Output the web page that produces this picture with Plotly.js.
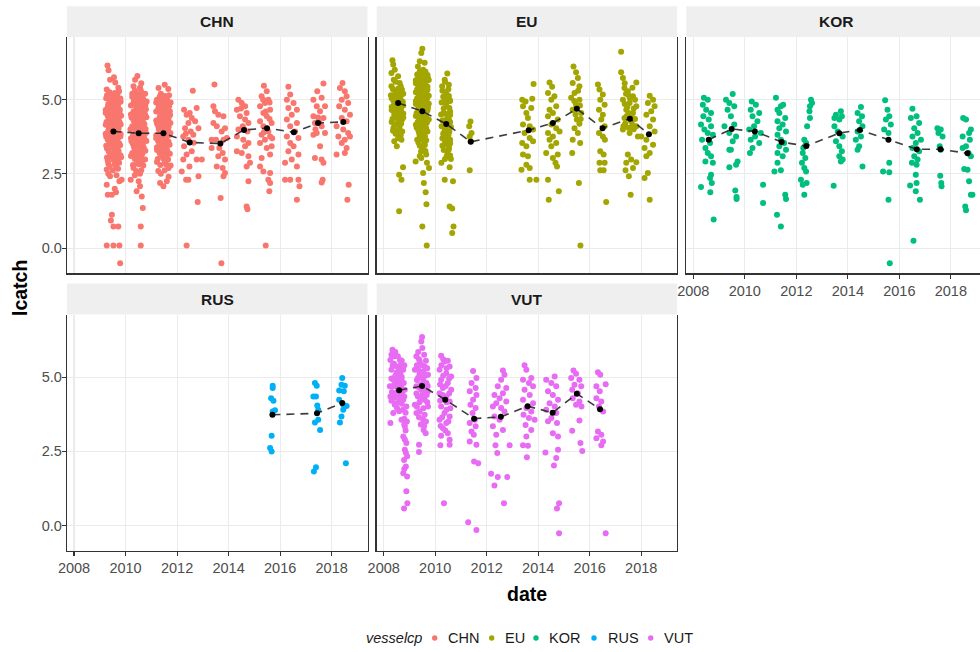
<!DOCTYPE html>
<html>
<head>
<meta charset="utf-8">
<script src="https://cdn.plot.ly/plotly-3.0.1.min.js"></script>
<style>html,body{margin:0;padding:0;overflow:hidden;background:#fff}</style>
</head>
<body>
<div id="chart"></div>
<script>
// ---- data: log catch by fishing trip, grouped by season for each fleet ----
const vessels = ['CHN', 'EU', 'KOR', 'RUS', 'VUT'];
const vesselColors = ['#F8766D', '#A3A500', '#00BF7D', '#00B0F6', '#E76BF3'];
const xTickVals = [2008, 2010, 2012, 2014, 2016, 2018];
const yTickVals = [0, 2.5, 5];
const yTickText = ['0.0', '2.5', '5.0'];

// season dates (decimal years) and seasonal mean lcatch
const chnDates = [2009.53, 2010.51, 2011.47, 2012.49, 2013.68, 2014.60, 2015.49, 2016.53, 2017.47, 2018.45];
const chnMeans = [3.93, 3.87, 3.87, 3.56, 3.52, 3.98, 4.04, 3.90, 4.21, 4.25];
const euDates = [2008.56, 2009.50, 2010.43, 2011.38, 2013.63, 2014.57, 2015.50, 2016.50, 2017.56, 2018.30];
const euMeans = [4.89, 4.61, 4.18, 3.58, 3.97, 4.21, 4.69, 4.04, 4.36, 3.83];
const korDates = [2008.60, 2009.49, 2010.39, 2011.43, 2012.39, 2013.67, 2014.47, 2015.58, 2016.68, 2017.60, 2018.65];
const korMeans = [3.65, 4.01, 3.93, 3.57, 3.44, 3.87, 3.98, 3.65, 3.33, 3.33, 3.19];
const rusDates = [2015.70, 2017.43, 2018.41];
const rusMeans = [3.73, 3.78, 4.13];
const vutDates = [2008.60, 2009.49, 2010.39, 2011.51, 2012.55, 2013.59, 2014.56, 2015.50, 2016.40];
const vutMeans = [4.56, 4.70, 4.24, 3.60, 3.66, 4.02, 3.80, 4.44, 3.92];

// individual trips per season: [jitter offset in years, lcatch]
const chnTrips = [
  [[-0.23,6.15],[-0.19,5.99],[0.02,5.75],[0.07,5.58],[-0.13,5.67],[0.19,5.40],[-0.26,5.34],
   [-0.15,5.25],[0.05,5.22],[0.22,5.28],[-0.28,5.05],[-0.05,5.02],[0.12,5.08],[0.27,5.04],
   [-0.2,4.85],[0.0,4.88],[0.18,4.83],[-0.3,4.65],[-0.1,4.68],[0.08,4.62],[0.25,4.66],
   [-0.22,4.45],[-0.02,4.47],[0.15,4.43],[0.3,4.46],[-0.27,4.25],[-0.08,4.22],[0.1,4.27],[0.24,4.24],
   [-0.18,4.05],[0.02,4.08],[0.2,4.03],[-0.3,3.85],[-0.1,3.82],[0.07,3.87],[0.28,3.84],
   [-0.22,3.65],[-0.02,3.62],[0.16,3.67],[-0.28,3.45],[-0.08,3.48],[0.1,3.43],[0.26,3.46],
   [-0.18,3.25],[0.03,3.22],[0.2,3.27],[-0.25,3.05],[-0.05,3.08],[0.13,3.03],[0.3,3.06],
   [-0.2,2.85],[0.05,2.82],[0.22,2.87],[-0.26,2.65],[-0.02,2.62],[0.18,2.67],
   [-0.25,5.15],[-0.05,5.12],[0.15,5.18],[-0.12,4.95],[0.08,4.97],[0.28,4.93],
   [-0.22,4.75],[-0.02,4.77],[0.17,4.73],[-0.3,4.55],[-0.12,4.57],[0.06,4.53],[0.24,4.56],
   [-0.18,4.35],[0.02,4.37],[0.2,4.33],[-0.3,4.15],[-0.1,4.17],[0.1,4.13],[0.28,4.16],
   [-0.2,3.95],[0.0,3.97],[0.18,3.93],[-0.28,3.75],[-0.08,3.77],[0.1,3.73],[0.27,3.76],
   [-0.15,3.55],[0.05,3.57],[0.22,3.53],[-0.25,3.35],[-0.02,3.37],[0.16,3.33],
   [-0.12,3.15],[0.08,3.17],[0.27,3.13],[-0.22,2.95],[0.0,2.97],[0.18,2.93],
   [-0.15,2.75],[0.1,2.77],[-0.2,2.5],[0.12,2.45],
   [-0.22,1.80],[-0.06,1.80],[0.10,1.88],[0.23,2.25],[0.32,2.30],[-0.26,2.13],[-0.13,2.42],[0.05,2.0],
   [-0.06,1.12],[-0.10,0.93],[0,0.73],[0.19,0.73],[-0.26,0.09],[0,0.09],[0.23,0.09],[0.26,-0.51]],
  [[-0.14,5.67],[-0.05,5.80],[0.1,5.55],[-0.2,5.45],[0.05,5.40],[0.31,4.94],[0.25,5.2],
   [-0.25,5.2],[-0.05,5.18],[0.12,5.22],[-0.18,5.0],[0.02,5.03],[0.2,4.98],
   [-0.3,4.8],[-0.1,4.82],[0.08,4.78],[0.26,4.81],[-0.2,4.6],[0.0,4.63],[0.15,4.58],
   [-0.28,4.4],[-0.08,4.42],[0.1,4.38],[0.3,4.41],[-0.15,4.2],[0.05,4.23],[0.22,4.18],
   [-0.32,4.0],[-0.12,4.02],[0.08,3.98],[0.27,4.01],[-0.22,3.8],[-0.02,3.83],[0.15,3.78],
   [-0.28,3.6],[-0.06,3.62],[0.12,3.58],[0.3,3.61],[-0.18,3.4],[0.02,3.43],[0.2,3.38],
   [-0.25,3.2],[-0.05,3.22],[0.14,3.18],[-0.15,3.0],[0.05,3.03],[0.25,2.98],
   [-0.22,2.8],[0.0,2.82],[0.18,2.78],[-0.1,2.6],[0.1,2.62],
   [-0.15,5.3],[0.08,5.32],[-0.25,5.1],[-0.05,5.12],[0.15,5.08],
   [-0.2,4.9],[0.0,4.92],[0.2,4.88],[-0.1,4.7],[0.1,4.72],[0.28,4.68],
   [-0.3,4.5],[-0.1,4.52],[0.08,4.48],[0.25,4.5],[-0.2,4.3],[0.0,4.32],[0.16,4.28],
   [-0.25,4.1],[-0.02,4.12],[0.18,4.08],[-0.12,3.9],[0.08,3.92],[0.28,3.88],
   [-0.3,3.7],[-0.12,3.72],[0.05,3.68],[0.22,3.7],[-0.22,3.5],[-0.02,3.52],[0.16,3.48],
   [-0.15,3.3],[0.08,3.32],[0.26,3.28],[-0.3,3.1],[-0.1,3.12],[0.1,3.08],
   [-0.05,2.9],[0.12,2.92],[-0.2,2.7],[0.05,2.5],[-0.15,2.45],
   [-0.31,2.30],[0,2.25],[0.05,2.08],[-0.08,1.91],[0.12,1.74],[0.16,1.35],[0.08,0.73],[0.08,0.09]],
  [[-0.19,5.39],[0.19,5.36],[0.05,5.50],[-0.1,5.2],[0.22,5.15],
   [-0.25,5.0],[-0.05,5.02],[0.15,4.98],[-0.18,4.8],[0.02,4.82],[0.22,4.78],
   [-0.28,4.6],[-0.08,4.62],[0.1,4.58],[0.25,4.61],[-0.15,4.4],[0.05,4.42],[0.2,4.38],
   [-0.25,4.2],[-0.05,4.22],[0.12,4.18],[0.27,4.21],[-0.18,4.0],[0.0,4.02],[0.18,3.98],
   [-0.28,3.8],[-0.1,3.82],[0.08,3.78],[0.24,3.81],[-0.2,3.6],[0.02,3.62],[0.2,3.58],
   [-0.25,3.4],[-0.05,3.42],[0.12,3.38],[-0.15,3.2],[0.05,3.22],[0.25,3.18],
   [-0.22,3.0],[0.0,3.02],[0.18,2.98],[-0.12,2.8],[0.1,2.82],[0.28,2.78],[-0.2,2.6],[0.05,2.62],
   [-0.15,5.1],[0.05,5.12],[-0.28,4.9],[-0.08,4.92],[0.12,4.88],[0.28,4.9],
   [-0.2,4.7],[0.0,4.72],[0.18,4.68],[-0.12,4.5],[0.08,4.52],[0.26,4.48],
   [-0.28,4.3],[-0.08,4.32],[0.12,4.28],[-0.2,4.1],[0.02,4.12],[0.2,4.08],
   [-0.12,3.9],[0.08,3.92],[0.27,3.88],[-0.28,3.7],[-0.08,3.72],[0.12,3.68],
   [-0.15,3.5],[0.05,3.52],[0.24,3.48],[-0.25,3.3],[-0.05,3.32],[0.15,3.28],
   [-0.1,3.1],[0.12,3.12],[-0.25,2.9],[0.05,2.92],[0.2,2.7],[-0.1,2.5],
   [-0.13,2.19],[0.13,2.25],[0,2.08],[0.2,2.4]],
  [[0.12,5.30],[-0.22,4.66],[0.27,4.72],[-0.12,4.49],[0.08,4.38],[-0.05,4.21],[0.21,4.27],
   [-0.18,4.04],[0.34,4.04],[0.04,3.93],[-0.25,3.76],[0.14,3.82],[-0.05,3.65],[-0.22,3.43],
   [0.08,3.26],[-0.12,3.15],[-0.25,2.98],[-0.01,2.75],[0.27,2.98],[0.47,2.98],[-0.31,2.58],
   [-0.14,2.30],[-0.05,2.30],[0.34,2.42],[0.31,1.55],[-0.12,0.09],[0.0,4.55],[0.15,3.55],[-0.15,3.85]],
  [[-0.23,5.51],[-0.27,4.78],[-0.21,4.61],[-0.08,4.49],[0.12,4.44],[-0.27,4.21],[-0.14,4.10],
   [0.18,4.04],[0.05,3.93],[-0.34,3.65],[-0.17,3.65],[0.12,3.65],[0.25,3.71],[-0.04,3.37],
   [-0.34,3.37],[0.09,3.20],[-0.08,3.09],[0.18,2.98],[-0.14,2.75],[0.09,2.70],[0.18,2.53],
   [0.12,2.42],[0.01,1.69],[0.04,-0.51]],
  [[-0.22,5.00],[-0.09,4.89],[0.04,4.78],[-0.28,4.66],[0.10,4.55],[-0.16,4.44],[0.04,4.33],
   [0.17,4.21],[-0.05,4.10],[-0.22,3.99],[0.13,3.93],[-0.28,3.76],[-0.03,3.65],[0.17,3.54],
   [0.04,3.43],[-0.28,3.26],[-0.09,3.20],[0.17,3.09],[0.23,2.87],[0.10,2.75],[0.17,2.25],
   [0.10,1.40],[0.13,1.31],[-0.12,4.7],[0.0,4.0]],
  [[-0.12,5.47],[-0.01,5.28],[-0.21,5.11],[0.05,5.00],[-0.08,4.89],[-0.27,4.78],[0.12,4.66],
   [-0.14,4.55],[-0.01,4.44],[-0.27,4.27],[0.18,4.21],[-0.14,4.10],[0.05,3.93],[-0.21,3.82],
   [0.12,3.76],[-0.08,3.65],[-0.27,3.54],[0.18,3.43],[-0.01,3.37],[-0.21,3.03],[0.12,3.15],
   [-0.27,2.75],[-0.14,2.58],[0.12,2.53],[0.05,2.30],[0.12,2.19],[0.09,1.91],[-0.05,0.09],
   [0.1,4.9],[-0.05,4.6],[0.2,3.7],[-0.15,5.0],[0.1,4.35],[-0.12,3.9]],
  [[-0.21,5.43],[-0.14,5.17],[-0.27,5.00],[-0.01,4.89],[-0.21,4.72],[0.12,4.66],[-0.08,4.49],
   [-0.27,4.33],[0.12,4.21],[-0.14,4.10],[0.05,3.93],[-0.27,3.76],[0.18,3.71],[-0.14,3.54],
   [-0.01,3.43],[-0.21,3.26],[0.18,3.15],[-0.08,2.98],[-0.34,2.87],[0.12,2.75],[-0.34,2.30],
   [-0.14,2.30],[0.18,2.30],[0.22,2.08],[0.12,1.63]],
  [[-0.03,5.28],[0.21,5.54],[-0.18,5.00],[0.14,5.06],[-0.05,4.78],[0.27,4.78],[0.08,4.61],
   [-0.18,4.44],[0.21,4.38],[-0.12,4.21],[0.14,4.10],[-0.05,3.88],[-0.18,3.82],[0.27,3.88],
   [0.08,3.43],[-0.12,3.03],[0.14,2.98],[0.21,2.87],[0.18,2.30],[0.14,2.21],
   [0.0,4.4],[-0.1,4.0],[0.05,4.25]],
  [[-0.03,5.56],[-0.13,5.39],[0.06,5.28],[0.13,5.11],[-0.06,5.00],[0.19,4.89],[-0.16,4.78],
   [0.06,4.66],[0.26,4.49],[-0.06,4.38],[0.13,4.27],[-0.26,4.10],[0,3.99],[0.19,3.88],
   [-0.19,3.76],[0.06,3.65],[0.26,3.76],[-0.06,3.54],[0.13,3.37],[-0.26,3.15],[0.06,3.20],
   [0.21,2.13],[0.16,1.63]]
];

const euTrips = [
  [[-0.22,6.33],[-0.19,6.18],[-0.13,6.01],[-0.26,5.90],[0,5.79],[-0.17,5.67],[0.06,5.56],[-0.26,5.45],
   [-0.2,5.35],[0.0,5.37],[0.15,5.33],[-0.28,5.15],[-0.08,5.17],[0.1,5.13],
   [-0.18,4.95],[0.03,4.97],[0.18,4.93],[-0.25,4.75],[-0.05,4.77],[0.12,4.73],
   [-0.15,4.55],[0.05,4.57],[0.2,4.53],[-0.22,4.35],[-0.02,4.37],[0.15,4.33],
   [-0.12,4.15],[0.08,4.17],[-0.2,3.95],[0.02,3.97],[0.16,3.93],
   [-0.1,5.6],[0.1,5.45],[-0.1,5.25],[0.05,5.25],[0.2,5.2],[-0.25,5.05],[-0.05,5.05],[0.1,5.0],
   [-0.15,4.85],[0.05,4.85],[0.2,4.8],[-0.25,4.65],[-0.05,4.65],[0.12,4.6],
   [-0.15,4.45],[0.05,4.45],[0.2,4.4],[-0.25,4.25],[0.0,4.25],[0.12,4.2],
   [-0.18,4.05],[0.05,4.05],[-0.1,3.85],[0.1,3.8],[-0.15,3.6],[0.0,3.7],
   [0.13,3.65],[-0.05,3.43],[0.19,2.72],[0.04,2.47],[0.13,2.30],[0.04,1.24]],
  [[0,6.71],[-0.04,6.57],[-0.10,6.29],[0.09,6.24],[-0.17,6.12],[0.03,6.01],
   [-0.2,5.85],[0.0,5.87],[0.2,5.83],[-0.25,5.65],[-0.05,5.67],[0.12,5.63],[0.25,5.66],
   [-0.15,5.45],[0.05,5.47],[0.2,5.43],[-0.25,5.25],[-0.05,5.27],[0.15,5.23],
   [-0.2,5.05],[0.0,5.07],[0.18,5.03],[-0.25,4.85],[-0.05,4.87],[0.12,4.83],[0.25,4.86],
   [-0.15,4.65],[0.05,4.67],[0.2,4.63],[-0.25,4.45],[-0.05,4.47],[0.15,4.43],
   [-0.18,4.25],[0.02,4.27],[0.18,4.23],[-0.22,4.05],[-0.02,4.07],[0.15,4.03],
   [-0.12,3.85],[0.08,3.87],[-0.2,3.65],[0.0,3.67],[0.15,3.63],[-0.1,3.45],[0.1,3.47],
   [-0.05,3.25],[0.12,3.27],
   [-0.1,5.95],[0.12,5.95],[-0.15,5.75],[0.05,5.77],[0.22,5.73],[-0.25,5.55],[-0.05,5.57],[0.12,5.53],
   [-0.2,5.35],[0.0,5.37],[0.2,5.33],[-0.12,5.15],[0.08,5.17],[0.25,5.13],
   [-0.25,4.95],[-0.05,4.97],[0.12,4.93],[-0.15,4.75],[0.05,4.77],[0.22,4.73],
   [-0.22,4.55],[-0.02,4.57],[0.15,4.53],[-0.12,4.35],[0.08,4.37],[0.25,4.33],
   [-0.25,4.15],[-0.05,4.17],[0.12,4.13],[-0.15,3.95],[0.05,3.97],[0.2,3.93],
   [-0.1,3.75],[0.1,3.77],[-0.15,3.55],[0.08,3.55],[0.0,3.35],[0.15,3.15],[-0.1,3.1],
   [-0.26,2.92],[-0.04,3.03],[0.18,2.87],[0.26,2.70],[0.03,2.53],[0.06,2.19],[0.13,1.88],
   [0.16,1.48],[0,0.73],[0.17,0.09]],
  [[0.04,5.88],[-0.06,5.67],[-0.16,5.45],[0,5.22],[0.13,5.0],[0.08,5.35],
   [-0.12,5.1],[0.1,5.12],[-0.18,4.9],[0.02,4.92],[-0.1,4.7],[0.12,4.72],
   [-0.2,4.5],[0.0,4.52],[0.15,4.48],[-0.1,4.3],[0.1,4.32],[-0.18,4.1],[0.03,4.12],[0.18,4.08],
   [-0.08,3.9],[0.12,3.92],[-0.15,3.7],[0.05,3.72],[0.0,3.5],[0.15,3.52],[-0.1,3.3],[0.1,3.32],
   [0.02,3.1],[0.15,3.12],
   [-0.05,5.6],[0.1,5.5],[-0.15,5.3],[-0.05,5.05],[0.15,4.95],[0.0,4.8],[0.15,4.6],[-0.1,4.55],
   [0.05,4.4],[-0.15,4.3],[0.15,4.25],[-0.05,4.0],[0.08,3.8],[-0.12,3.85],[0.15,3.65],[-0.05,3.6],
   [0.1,3.4],[-0.15,3.45],[0.05,3.2],[0.18,3.0],[-0.05,3.0],
   [-0.19,2.87],[0.13,2.72],[-0.06,2.30],[0.26,2.25],[0.13,1.40],[0.23,1.33],[0.28,0.73],[0.23,0.51]],
  [[-0.01,4.26],[-0.06,4.10],[0.03,3.88],[-0.04,3.76],[0,3.60],[-0.04,2.62]],
  [[0.19,5.53],[-0.25,5.00],[-0.12,4.94],[0.14,5.03],[-0.22,4.78],[0.10,4.72],[-0.09,4.55],
   [-0.03,4.38],[-0.22,4.16],[0.04,4.10],[0.17,3.99],[-0.16,3.88],[0.04,3.71],[0.17,3.60],
   [-0.25,3.54],[-0.09,3.43],[-0.22,3.15],[-0.03,3.09],[-0.09,2.81],[-0.28,2.64],[0.04,2.70],
   [0.04,2.30],[0.30,2.30]],
  [[-0.13,5.58],[-0.03,5.43],[-0.19,5.22],[0.06,5.11],[-0.06,5.00],[0.13,4.78],[-0.13,4.66],
   [0,4.55],[-0.19,4.44],[0.19,4.33],[-0.06,4.16],[0.13,4.04],[-0.19,3.88],[0.26,3.93],
   [0,3.76],[-0.13,3.65],[0.13,3.54],[-0.06,3.43],[-0.26,3.20],[0.19,3.15],[0,3.03],
   [0.10,2.87],[0.16,2.75],[-0.19,2.30],[-0.16,1.63],[0.23,1.91]],
  [[-0.13,6.12],[-0.03,5.92],[0.04,5.73],[-0.16,5.56],[0.10,5.45],[-0.09,5.22],[-0.22,5.06],
   [0.10,5.00],[-0.03,4.83],[-0.16,4.66],[0.17,4.55],[0,4.33],[0.10,4.19],[-0.09,4.04],
   [0.04,3.88],[-0.16,3.65],[0.13,3.54],[-0.18,3.20],[0.08,2.19],[0.14,0.09],
   [0.05,5.3],[-0.1,4.95],[0.12,4.8],[-0.05,4.5],[0.15,4.35]],
  [[-0.18,5.51],[-0.12,5.34],[0.01,5.17],[-0.09,5.00],[0.08,4.83],[-0.14,4.66],[0.01,4.49],
   [-0.05,4.33],[0.08,4.10],[-0.14,3.88],[0.01,3.76],[0.09,3.65],[-0.09,3.26],[0.04,3.15],
   [-0.12,2.87],[0.08,2.87],[-0.09,2.62],[0.04,2.62],[0.14,1.55]],
  [[-0.34,6.61],[-0.34,5.92],[-0.27,5.73],[0.25,5.58],[-0.21,5.39],[-0.08,5.28],[0.12,5.11],
   [-0.27,5.00],[-0.01,4.89],[0.25,4.78],[-0.14,4.66],[0.12,4.55],[-0.21,4.38],[0.05,4.27],
   [0.25,4.10],[-0.27,3.99],[-0.01,3.88],[0.31,3.76],[-0.08,3.15],[0.05,2.98],[-0.14,2.87],
   [0.25,2.89],[0.12,2.70],[-0.04,2.42],[-0.17,2.62],[0.03,1.80],
   [-0.15,5.2],[0.0,5.05],[-0.1,4.75],[0.05,4.45],[-0.18,4.2],[0.15,4.0],[-0.05,4.05],
   [-0.2,5.55],[0.1,5.4],[-0.05,5.15],[0.2,5.0],[-0.2,4.85],[0.15,4.7],[-0.05,4.55],
   [0.2,4.35],[-0.12,4.45],[0.1,4.15],[-0.25,4.1]],
  [[0.03,5.13],[0.16,5.00],[-0.04,4.89],[0.22,4.78],[0.09,4.61],[-0.10,4.49],[0.16,4.33],
   [0.03,4.10],[0.22,3.93],[-0.30,3.76],[-0.10,3.65],[0.16,3.48],[-0.17,3.37],[0.03,3.20],
   [-0.10,3.09],[-0.04,2.53],[-0.17,2.36],[0.03,1.63]]
];

const korTrips = [
  [[-0.19,5.06],[-0.04,5.00],[-0.23,4.83],[-0.10,4.66],[0.09,4.55],[-0.21,4.44],[0,4.33],
   [-0.30,4.16],[0.09,4.10],[-0.17,3.99],[-0.04,3.88],[0.16,3.82],[-0.26,3.65],[0.05,3.54],
   [-0.13,3.37],[-0.04,3.20],[0.09,3.09],[-0.13,2.92],[0.16,2.87],[0.09,2.47],[0.05,2.36],
   [0.12,2.19],[-0.30,2.06],[0.06,1.88],[0.19,0.96]],
  [[0.04,5.19],[-0.22,5.00],[-0.09,4.89],[0.10,4.78],[-0.16,4.66],[-0.03,4.44],[-0.28,4.10],
   [0.10,4.16],[-0.09,3.88],[0.17,3.76],[0.04,3.60],[-0.09,3.31],[-0.03,3.31],[0.23,2.92],
   [0.17,2.81],[-0.09,2.72],[0.14,1.94],[0.19,1.65],[0.19,1.72]],
  [[-0.12,4.94],[0.04,4.83],[-0.16,4.66],[0.17,4.55],[-0.09,4.44],[0.10,4.27],[-0.03,4.10],
   [-0.22,3.99],[0.23,3.88],[0.01,3.76],[-0.16,3.65],[0.17,3.54],[-0.09,3.37],[-0.19,3.20],
   [0.32,2.13],[0.32,1.52]],
  [[-0.22,5.06],[0.06,4.83],[-0.03,4.78],[-0.16,4.66],[-0.09,4.55],[0.14,4.38],[-0.16,4.27],
   [0.04,4.16],[-0.09,4.04],[0.17,3.93],[-0.16,3.82],[-0.03,3.65],[0.10,3.54],[-0.09,3.43],
   [0.17,3.31],[-0.16,3.20],[0.04,3.09],[-0.16,2.87],[-0.03,2.62],[-0.28,2.58],[0.14,1.80],
   [0.17,1.65],[-0.18,1.12],[-0.03,0.73]],
  [[0.18,5.00],[0.22,4.89],[0.14,4.78],[0.12,4.61],[0.14,4.38],[0.03,4.10],[-0.08,3.65],
   [-0.01,3.54],[-0.12,3.37],[-0.14,3.20],[-0.04,3.03],[-0.17,2.87],[-0.08,2.70],[-0.01,2.58],
   [-0.21,2.30],[0.01,2.19],[-0.14,2.13],[-0.08,1.80]],
  [[0.06,4.61],[-0.13,4.49],[-0.19,4.38],[0.10,4.44],[0,4.33],[-0.19,4.10],[-0.06,3.93],
   [0.13,3.76],[-0.13,3.60],[0,3.43],[0.10,3.26],[0,3.09],[0.13,2.98],[0.06,2.92],[-0.22,2.10]],
  [[0.04,4.75],[-0.09,4.55],[0.08,4.44],[-0.03,4.27],[0.10,4.10],[-0.09,3.93],[0.04,3.76],
   [-0.16,3.65],[-0.03,3.43],[-0.09,3.31],[0.10,2.75]],
  [[-0.13,4.98],[-0.04,4.66],[0.03,4.44],[-0.10,4.33],[0.09,4.16],[-0.17,3.99],[0,3.88],
   [0.03,2.87],[-0.21,2.58],[0.03,2.55],[0,1.63],[0.05,-0.51]],
  [[-0.17,4.69],[-0.01,4.44],[-0.23,4.38],[0.09,4.21],[-0.10,4.04],[0.03,3.88],[-0.17,3.76],
   [0.16,3.65],[-0.04,3.54],[-0.17,3.37],[0.09,3.26],[-0.10,3.09],[0.03,2.98],[-0.19,2.87],
   [-0.01,2.81],[-0.04,2.47],[-0.01,2.19],[-0.26,2.11],[-0.04,1.91],[0.12,1.63],[-0.13,0.25]],
  [[-0.12,4.04],[0.01,3.99],[-0.08,3.88],[0.08,3.76],[-0.03,3.43],[0.01,3.31],[-0.01,2.44],
   [0.03,2.19],[0.04,2.08]],
  [[-0.17,4.38],[-0.06,4.33],[0.13,3.99],[0.06,3.88],[-0.19,3.76],[0.09,3.65],[-0.06,3.43],
   [-0.19,3.37],[0.04,3.20],[0.13,3.09],[-0.13,2.66],[0,2.64],[0.06,2.25],[0.13,1.80],
   [0.19,1.80],[-0.09,1.40],[-0.06,1.27]]
];

const rusTrips = [
  [[0.01,4.71],[0.01,4.63],[-0.05,4.29],[0.04,4.20],[0.10,3.88],[0.01,3.84],[-0.03,3.02],
   [-0.09,2.61],[-0.03,2.49]],
  [[-0.08,4.80],[-0.01,4.71],[-0.04,4.35],[-0.14,4.35],[0.01,4.04],[0.05,3.90],[0.05,3.56],
   [-0.08,3.47],[0.12,3.22],[-0.04,1.96],[-0.12,1.82]],
  [[0,4.97],[-0.03,4.74],[0.10,4.71],[-0.12,4.55],[0.06,4.52],[-0.12,4.24],[0.04,4.07],
   [0.17,4.03],[0.04,3.90],[-0.03,3.67],[-0.09,3.47],[0.14,2.10]]
];

const vutTrips = [
  [[-0.26,5.92],[-0.34,5.58],[-0.17,5.70],[0.03,5.58],[-0.10,5.36],[-0.30,5.25],[0.16,5.25],
   [-0.04,5.08],[-0.23,4.91],[0.09,4.91],[-0.36,4.69],[-0.13,4.69],[0.22,4.57],[0.03,4.40],
   [-0.34,4.35],[0.16,4.24],[-0.17,4.07],[0.28,4.01],[-0.23,3.79],[-0.34,3.45],[0.09,3.56],
   [0.22,3.34],[0.16,3.00],[0.28,2.78],[0.22,2.55],[0.31,2.33],[0.19,2.21],[0.26,1.99],
   [0.16,1.76],[0.31,1.65],[0.28,1.15],[0.32,0.75],[0.19,0.57],
   [-0.2,5.45],[0.05,5.4],[-0.1,5.15],[0.1,5.0],[-0.15,4.8],[0.0,4.75],[-0.28,4.5],[-0.05,4.55],
   [0.12,4.45],[-0.2,4.3],[0.0,4.2],[-0.08,3.95],[0.15,3.9],[0.2,3.6],[0.25,3.2],
   [-0.15,5.85],[-0.3,5.75],[-0.05,5.7],[0.1,5.55],[-0.25,5.4],[0.0,5.25],[0.2,5.4],[-0.15,5.05],
   [0.05,5.1],[-0.3,4.95],[0.18,4.8],[-0.05,4.9],[-0.25,4.7],[0.08,4.65],[-0.15,4.45],[0.2,4.35],
   [-0.1,4.4],[0.05,4.3],[-0.3,4.2],[0.1,4.1],[-0.12,4.1],[0.25,3.8],[0.0,3.85],[0.3,3.5],
   [0.2,3.4],[0.22,2.9],[0.26,2.45],[0.2,1.9]],
  [[0,6.35],[-0.03,6.20],[0.01,5.98],[-0.22,5.70],[-0.09,5.53],[0.10,5.36],[-0.28,5.25],
   [0.23,5.08],[-0.16,4.97],[0.04,4.91],[0.17,4.80],[-0.22,4.69],[-0.03,4.57],[0.23,4.52],
   [-0.16,4.35],[0.10,4.24],[-0.28,4.07],[0.23,4.01],[-0.09,3.84],[0.10,3.73],[-0.22,3.79],
   [0.04,3.56],[0.06,3.22],[0.14,3.11],[-0.12,2.72],[-0.12,2.48],
   [-0.1,5.1],[0.05,5.2],[-0.05,4.75],[0.1,4.6],[-0.1,4.15],[0.0,4.4],
   [-0.15,5.85],[0.08,5.75],[-0.12,5.6],[0.15,5.55],[-0.2,5.4],[0.0,5.4],[0.2,5.3],[-0.15,5.25],
   [0.12,5.05],[-0.2,4.9],[0.0,5.0],[0.22,4.7],[-0.12,4.65],[0.05,4.5],[-0.22,4.45],[0.18,4.4],
   [-0.05,4.25],[0.2,4.15],[-0.2,4.0],[0.05,3.95],[-0.12,3.65],[0.15,3.5],[0.08,3.35],[-0.05,3.4]],
  [[-0.16,5.72],[-0.03,5.53],[0.17,5.36],[-0.22,5.25],[0.04,5.13],[0.23,5.02],[-0.16,4.91],
   [0.10,4.80],[-0.09,4.63],[0.23,4.57],[-0.22,4.46],[0.04,4.35],[0.17,4.18],[-0.16,4.01],
   [-0.03,3.79],[0.17,3.67],[-0.22,3.56],[0.04,3.45],[-0.09,3.28],[0.10,3.11],[0.17,2.89],
   [-0.16,3.02],[-0.19,2.70],[0.17,2.72],[-0.05,0.75],
   [-0.08,5.6],[0.1,5.55],[-0.15,5.4],[0.05,5.3],[-0.08,5.05],[0.15,4.95],[-0.2,4.75],[0.02,4.7],
   [0.15,4.45],[-0.1,4.4],[0.05,4.15],[-0.2,4.2],[0.2,3.95],[0.05,3.9],[-0.12,3.65],[0.12,3.5],
   [-0.18,3.35],[0.0,3.2]],
  [[-0.04,5.21],[0.09,4.97],[-0.10,4.80],[0.06,4.63],[-0.17,4.52],[0.09,4.40],[-0.04,4.24],
   [-0.14,4.07],[0.06,3.96],[-0.06,3.79],[0.03,3.56],[-0.17,3.45],[0.06,3.34],[-0.10,3.17],
   [-0.01,3.06],[-0.17,2.83],[0.09,2.72],[0,2.16],[0.16,2.10],[-0.23,0.11],[0.09,-0.15]],
  [[0.08,5.22],[0.14,5.08],[0.01,4.91],[-0.12,4.69],[0.21,4.63],[-0.25,4.40],[0.08,4.46],
   [-0.05,4.29],[-0.18,4.12],[0.21,4.18],[-0.31,4.01],[0.01,3.96],[0.14,3.84],[-0.25,3.67],
   [-0.05,3.56],[-0.31,3.34],[0.08,3.22],[-0.18,3.06],[0.34,2.70],[-0.21,2.70],[-0.14,2.44],
   [-0.38,1.74],[-0.25,1.35],[-0.12,1.63],[0.25,1.63],[0.12,0.75]],
  [[-0.12,5.40],[-0.05,5.25],[0.14,4.97],[-0.18,4.91],[0.05,4.80],[0.21,4.69],[-0.12,4.57],
   [0.08,4.40],[-0.18,4.24],[0.21,4.12],[-0.05,3.96],[0.14,3.84],[-0.16,3.73],[0.05,3.62],
   [0.27,3.56],[-0.08,3.39],[0.14,3.22],[-0.05,3.00],[-0.18,2.70],[0.01,2.69],[-0.03,2.30]],
  [[0.08,5.02],[-0.25,4.91],[-0.05,4.80],[0.14,4.69],[-0.18,4.52],[0.01,4.40],[0.21,4.24],
   [-0.12,4.12],[0.08,4.01],[-0.25,3.90],[0.14,3.79],[-0.05,3.62],[-0.18,3.51],[0.17,3.45],
   [0.01,3.11],[0.21,3.00],[-0.28,2.46],[0.21,2.55],[0.14,2.27],[0.05,2.02],[0.25,0.75],
   [0.17,0.57],[0.25,-0.26]],
  [[-0.13,5.22],[-0.03,5.11],[-0.22,4.97],[0.10,4.91],[-0.09,4.74],[0.17,4.69],[-0.18,4.57],
   [0.04,4.46],[-0.16,4.29],[0.10,4.18],[-0.03,4.07],[0.18,4.01],[0.10,3.54],[-0.18,3.19],
   [0.14,2.78],[0.21,2.51]],
  [[-0.08,5.16],[0.01,5.08],[0.22,4.76],[-0.14,4.69],[-0.01,4.52],[-0.14,4.29],[0.05,4.18],
   [-0.04,4.01],[0.12,3.84],[-0.08,3.17],[0.05,3.06],[-0.14,2.94],[0.12,2.83],[0.05,2.70],
   [0.22,-0.26]]
];

const facetDates = [chnDates, euDates, korDates, rusDates, vutDates];
const facetMeans = [chnMeans, euMeans, korMeans, rusMeans, vutMeans];
const facetTrips = [chnTrips, euTrips, korTrips, rusTrips, vutTrips];

// ---- page geometry (pixels) ----
const W = 990, H = 652;
const fx = p => p / W;
const fy = p => 1 - p / H;
const colPx = [[67, 367.5], [376.7, 677], [686.3, 986.6]];
const rowPx = [[37, 273.3], [314.5, 550.7]];
const stripPx = [[6.3, 37], [283.5, 314.5]];
const facetCell = [[0, 0], [0, 1], [0, 2], [1, 0], [1, 1]];
const xLabelled = [false, false, true, true, true];
const yLabelled = [true, false, false, true, false];
// legend row: key centres and label starts along the bottom line
const legendY = 638;
const legendKeyX = [434.7, 491.7, 536, 594, 650.7];
const legendTextX = [446, 503, 547, 606, 662];

const FONT = 'Liberation Sans, Arial, sans-serif';
const tickFont = {family: FONT, size: 14.5, color: '#4d4d4d'};

const traces = [];
const layout = {
  width: W, height: H,
  margin: {l: 0, r: 0, t: 0, b: 0},
  paper_bgcolor: '#ffffff', plot_bgcolor: '#ffffff',
  font: {family: FONT, color: '#1a1a1a'},
  showlegend: false,
  shapes: [], annotations: []
};

vessels.forEach((name, i) => {
  const k = i + 1;
  const [r, c] = facetCell[i];
  const xs = [], ys = [];
  facetTrips[i].forEach((season, s) => {
    season.forEach(([dx, v]) => { xs.push(facetDates[i][s] + dx); ys.push(v); });
  });
  traces.push({
    type: 'scatter', mode: 'markers', x: xs, y: ys,
    xaxis: 'x' + k, yaxis: 'y' + k, name: name,
    marker: {color: vesselColors[i], size: 6, line: {width: 0}},
    hoverinfo: 'skip'
  });
  traces.push({
    type: 'scatter', mode: 'lines+markers', x: facetDates[i], y: facetMeans[i],
    xaxis: 'x' + k, yaxis: 'y' + k, name: name + ' mean',
    line: {color: 'rgba(40,40,40,0.9)', width: 1.6, dash: '8px,6px'},
    marker: {color: '#000000', size: 6},
    hoverinfo: 'skip'
  });

  layout['xaxis' + k] = {
    domain: [fx(colPx[c][0]), fx(colPx[c][1])],
    anchor: 'y' + k, range: [2007.728, 2019.39],
    tickvals: xTickVals, ticktext: xTickVals.map(String),
    showticklabels: xLabelled[i], ticks: xLabelled[i] ? 'outside' : '',
    ticklen: 4, tickwidth: 1.1, tickcolor: '#333333', tickfont: tickFont,
    showgrid: true, gridcolor: '#ebebeb', gridwidth: 1.1, zeroline: false,
    showline: true, linecolor: '#333333', linewidth: 1.3, mirror: false,
    fixedrange: true
  };
  layout['yaxis' + k] = {
    domain: [fy(rowPx[r][1]), fy(rowPx[r][0])],
    anchor: 'x' + k, range: [-0.85, 7.11],
    tickvals: yTickVals, ticktext: yTickText,
    showticklabels: yLabelled[i], ticks: yLabelled[i] ? 'outside' : '',
    ticklen: 4, tickwidth: 1.1, tickcolor: '#333333', tickfont: tickFont,
    ticklabelstandoff: -3,
    showgrid: true, gridcolor: '#ebebeb', gridwidth: 1.1, zeroline: false,
    showline: true, linecolor: '#333333', linewidth: 1.3, mirror: true,
    fixedrange: true
  };

  // facet strip
  layout.shapes.push({
    type: 'rect', xref: 'paper', yref: 'paper', layer: 'below',
    x0: fx(colPx[c][0]), x1: fx(colPx[c][1]),
    y0: fy(stripPx[r][1]), y1: fy(stripPx[r][0]),
    fillcolor: '#efefef', line: {width: 0}
  });
  layout.annotations.push({
    xref: 'paper', yref: 'paper', showarrow: false,
    x: fx((colPx[c][0] + colPx[c][1]) / 2), y: fy((stripPx[r][0] + stripPx[r][1]) / 2),
    xanchor: 'center', yanchor: 'middle',
    text: '<b>' + name + '</b>', font: {family: FONT, size: 15.5, color: '#1a1a1a'}
  });

  // legend key and label
  const kr = 2.7;
  layout.shapes.push({
    type: 'circle', xref: 'paper', yref: 'paper',
    x0: fx(legendKeyX[i] - kr), x1: fx(legendKeyX[i] + kr),
    y0: fy(legendY + kr), y1: fy(legendY - kr),
    fillcolor: vesselColors[i], line: {width: 0}
  });
  layout.annotations.push({
    xref: 'paper', yref: 'paper', showarrow: false,
    x: fx(legendTextX[i]), y: fy(legendY), xanchor: 'left', yanchor: 'middle',
    text: name, font: {family: FONT, size: 14.5, color: '#1a1a1a'}
  });
});

// axis titles and legend title
layout.annotations.push({
  xref: 'paper', yref: 'paper', showarrow: false,
  x: fx(527), y: fy(594), xanchor: 'center', yanchor: 'middle',
  text: '<b>date</b>', font: {family: FONT, size: 19.5, color: '#000000'}
});
layout.annotations.push({
  xref: 'paper', yref: 'paper', showarrow: false, textangle: -90,
  x: fx(20), y: fy(288), xanchor: 'center', yanchor: 'middle',
  text: '<b>lcatch</b>', font: {family: FONT, size: 19.5, color: '#000000'}
});
layout.annotations.push({
  xref: 'paper', yref: 'paper', showarrow: false,
  x: fx(424), y: fy(legendY), xanchor: 'right', yanchor: 'middle',
  text: '<i>vesselcp</i>', font: {family: FONT, size: 14.5, color: '#1a1a1a'}
});

Plotly.newPlot('chart', traces, layout, {displayModeBar: false, staticPlot: true});
</script>
</body>
</html>
